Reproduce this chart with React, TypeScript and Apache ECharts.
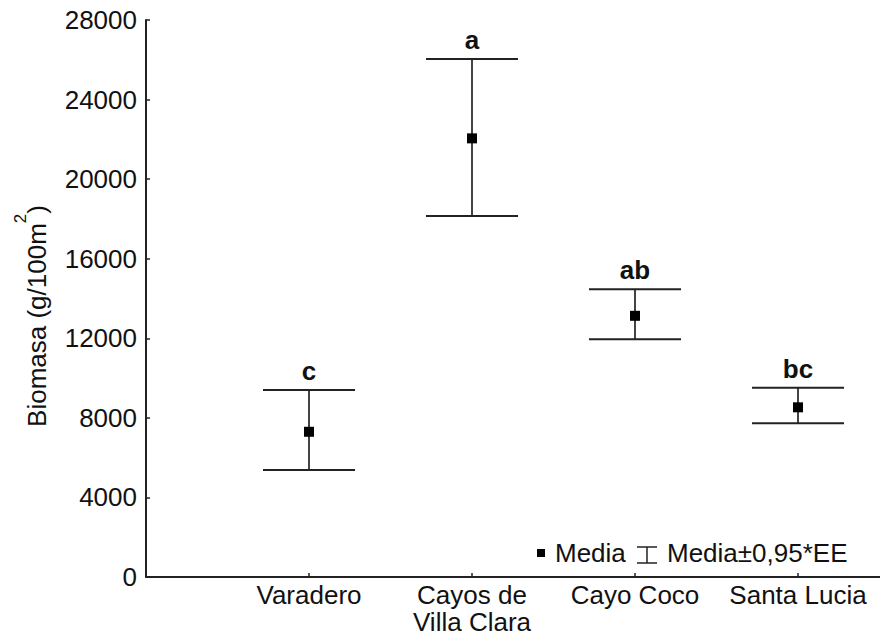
import React, { useEffect, useRef } from "react";
import * as echarts from "echarts";

const categories = ["Varadero", "Cayos de\nVilla Clara", "Cayo Coco", "Santa Lucia"];
const means = [7300, 22050, 13130, 8530];
const lowers = [5380, 18150, 11950, 7730];
const uppers = [9400, 26040, 14460, 9510];
const letters = ["c", "a", "ab", "bc"];
const yTicks = { min: 0, max: 28000, interval: 4000 };

const FONT = "Liberation Sans, Arial, sans-serif";

export default function App() {
  const ref = useRef<HTMLDivElement>(null);
  useEffect(() => {
    if (!ref.current) return;
    const chart = echarts.init(ref.current, undefined, { renderer: "svg" });
    const data = categories.map((_, i) => [i + 1, lowers[i], uppers[i], means[i]]);
    chart.setOption({
      animation: false,
      backgroundColor: "#ffffff",
      textStyle: { fontFamily: FONT },
      grid: { left: 146, top: 20, right: 0, bottom: 59, containLabel: false, outerBoundsMode: "none" },
      xAxis: {
        type: "value",
        min: 0,
        max: 5,
        interval: 1,
        splitLine: { show: false },
        axisLine: { show: true, lineStyle: { color: "#222", width: 2 } },
        axisTick: { show: true, inside: true, length: 4, lineStyle: { color: "#222", width: 1.5 } },
        axisLabel: {
          show: true,
          margin: 4,
          fontSize: 26,
          lineHeight: 27,
          color: "#111",
          fontFamily: FONT,
          showMinLabel: false,
          showMaxLabel: false,
          formatter: (v: number) => categories[v - 1] ?? "",
        },
      },
      yAxis: {
        type: "value",
        min: yTicks.min,
        max: yTicks.max,
        interval: yTicks.interval,
        splitLine: { show: false },
        axisLine: { show: true, lineStyle: { color: "#222", width: 2 } },
        axisTick: { show: true, inside: true, length: 4, lineStyle: { color: "#222", width: 1.5 } },
        axisLabel: {
          margin: 9,
          fontSize: 26,
          color: "#111",
          fontFamily: FONT,
          formatter: (v: number) => String(v),
        },
      },
      graphic: [
        {
          type: "text",
          x: 37,
          y: 316,
          rotation: Math.PI / 2,
          style: {
            text: "{a|Biomasa (g/100m}{s|2}{a|)}",
            align: "center",
            verticalAlign: "middle",
            fill: "#111",
            rich: {
              a: { fontSize: 26, fontFamily: FONT, lineHeight: 50, fill: "#111" },
              s: { fontSize: 17, fontFamily: FONT, lineHeight: 17, verticalAlign: "top", fill: "#111" },
            },
          },
        },
        { type: "rect", shape: { x: 537, y: 549, width: 8, height: 8 }, style: { fill: "#000" } },
        {
          type: "text",
          x: 555,
          y: 553,
          style: { text: "Media", fontSize: 26, fontFamily: FONT, fill: "#111", verticalAlign: "middle" },
        },
        { type: "line", shape: { x1: 637, y1: 547, x2: 657, y2: 547 }, style: { stroke: "#222", lineWidth: 1.5 } },
        { type: "line", shape: { x1: 637, y1: 563, x2: 657, y2: 563 }, style: { stroke: "#222", lineWidth: 1.5 } },
        { type: "line", shape: { x1: 647, y1: 547, x2: 647, y2: 563 }, style: { stroke: "#222", lineWidth: 1.5 } },
        {
          type: "text",
          x: 667,
          y: 553,
          style: { text: "Media±0,95*EE", fontSize: 26, fontFamily: FONT, fill: "#111", verticalAlign: "middle" },
        },
      ],
      series: [
        {
          type: "custom",
          data,
          renderItem: (params: any, api: any) => {
            const x = api.value(0);
            const lo = api.coord([x, api.value(1)]);
            const hi = api.coord([x, api.value(2)]);
            const m = api.coord([x, api.value(3)]);
            const half = 46;
            return {
              type: "group",
              children: [
                { type: "line", shape: { x1: hi[0], y1: hi[1], x2: lo[0], y2: lo[1] }, style: { stroke: "#444", lineWidth: 2 } },
                { type: "line", shape: { x1: hi[0] - half, y1: hi[1], x2: hi[0] + half, y2: hi[1] }, style: { stroke: "#222", lineWidth: 2 } },
                { type: "line", shape: { x1: lo[0] - half, y1: lo[1], x2: lo[0] + half, y2: lo[1] }, style: { stroke: "#222", lineWidth: 2 } },
                { type: "rect", shape: { x: m[0] - 5, y: m[1] - 5, width: 10, height: 10 }, style: { fill: "#000" } },
                {
                  type: "text",
                  x: hi[0],
                  y: hi[1] - 6,
                  style: {
                    text: letters[params.dataIndex],
                    fontSize: 26,
                    fontWeight: "bold",
                    fontFamily: FONT,
                    fill: "#111",
                    align: "center",
                    verticalAlign: "bottom",
                  },
                },
              ],
            };
          },
        },
      ],
    });
    return () => chart.dispose();
  }, []);
  return (
    <div style={{ position: "fixed", left: 0, top: 0, width: 880, height: 636, overflow: "hidden", background: "#fff" }}>
      <div ref={ref} style={{ width: 961, height: 636 }} />
    </div>
  );
}
